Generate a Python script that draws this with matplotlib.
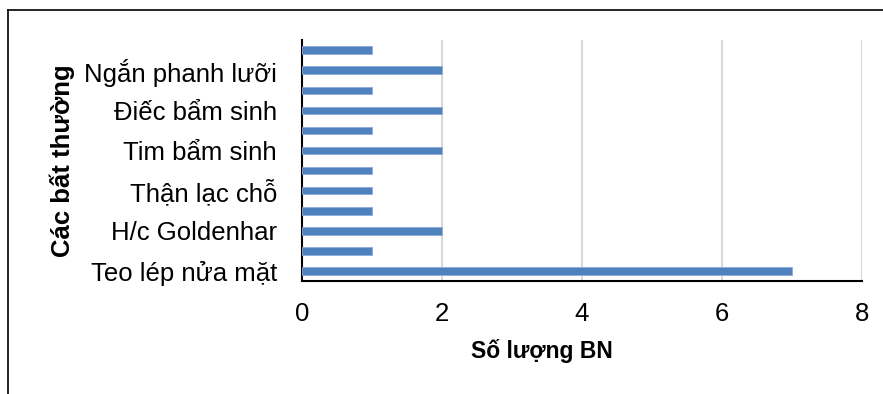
import matplotlib
matplotlib.use("Agg")
import matplotlib.pyplot as plt
from matplotlib.lines import Line2D

plt.rcParams['font.family'] = ['Liberation Sans', 'DejaVu Sans']

# Categories from bottom to top (hidden labels are not readable in the reference)
categories = ["Teo lép nửa mặt", "", "H/c Goldenhar", "", "Thận lạc chỗ", "",
              "Tim bẩm sinh", "", "Điếc bẩm sinh", "", "Ngắn phanh lưỡi", ""]
values = [7, 1, 2, 1, 1, 1, 2, 1, 2, 1, 2, 1]
x_ticks = [0, 2, 4, 6, 8]
x_label = "Số lượng BN"
y_label = "Các bất thường"

fig = plt.figure(figsize=(8.83, 3.94), dpi=100)
ax = fig.add_axes([0.342, 0.287, 0.634, 0.611])

pos = list(range(len(categories)))
ax.barh(pos, values, height=0.38, color='#4F81BD', edgecolor='#8EAADB',
        linewidth=0.6, zorder=3)

ax.set_xlim(0, 8)
ax.set_ylim(-0.5, len(categories) - 0.5)
ax.set_xticks(x_ticks)
ax.set_xticklabels([str(t) for t in x_ticks], fontsize=18.5)
ax.set_yticks(pos)
ax.set_yticklabels(categories, fontsize=18.5)
ax.tick_params(axis='both', length=0)
ax.tick_params(axis='x', pad=15)
ax.tick_params(axis='y', pad=18)

ax.grid(axis='x', color='#D9D9D9', linewidth=1.5, zorder=0)
for s in ['top', 'right']:
    ax.spines[s].set_visible(False)
for s in ['left', 'bottom']:
    ax.spines[s].set_color('black')
    ax.spines[s].set_linewidth(1.5)

ax.set_xlabel(x_label, fontsize=16.5, fontweight='bold')
ax.xaxis.set_label_coords(0.4286, -0.29)
ax.xaxis.label.set_verticalalignment('center')
ax.set_ylabel(y_label, fontsize=18.5, fontweight='bold')
ax.yaxis.set_label_coords(-0.4286, 0.5)
ax.yaxis.label.set_verticalalignment('center')

# Partial outer frame (top and left)
fig.add_artist(Line2D([8 / 883, 1.0], [1 - 10 / 394, 1 - 10 / 394],
                      transform=fig.transFigure, color='black', linewidth=1.2))
fig.add_artist(Line2D([8 / 883, 8 / 883], [0, 1 - 10 / 394],
                      transform=fig.transFigure, color='black', linewidth=1.2))

fig.savefig("out.png", dpi=100)
